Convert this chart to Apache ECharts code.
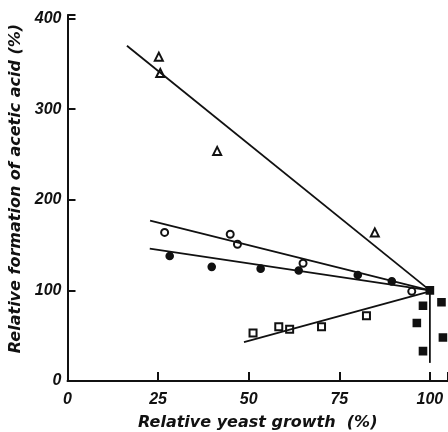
<!DOCTYPE html>
<html>
<head>
<meta charset="utf-8">
<script src="https://cdn.jsdelivr.net/npm/echarts@6/dist/echarts.min.js"></script>
<style>
  html, body { margin: 0; padding: 0; background: #fff; }
  #chart { width: 448px; height: 432px; }
</style>
</head>
<body>
<div id="chart"></div>
<script>
// x ticks and y ticks
const xTicks = [0, 25, 50, 75, 100];
const yTicks = [0, 100, 200, 300, 400];

// open triangles
const triPts = [[25.2, 358], [25.6, 340], [41.3, 254], [84.8, 164]];
const triLine = [[16.4, 370], [100, 100]];
// open circles
const openCirclePts = [[26.8, 164], [44.9, 162], [46.9, 151], [65.0, 130], [95.0, 99]];
const openCircleLine = [[22.8, 177], [100, 100]];
// filled circles
const filledCirclePts = [[28.2, 138], [39.8, 126], [53.3, 124], [63.8, 122], [80.1, 117], [89.5, 110]];
const filledCircleLine = [[22.7, 146], [100, 100]];
// open squares
const openSquarePts = [[51.2, 53], [58.3, 60], [61.3, 57], [70.1, 60], [82.5, 72]];
const openSquareLine = [[48.7, 43], [100, 99]];
// filled squares
const filledSquarePts = [[100, 100], [98.1, 83], [96.4, 64], [98.1, 33], [103.2, 87], [103.6, 48]];
const filledSquareLine = [[100, 100], [100, 20]];

const nameTxt = { fontFamily: "DejaVu Sans", fontWeight: "bold", fontStyle: "italic", color: "#111", fontSize: 16 };
const tickTxt = { fontFamily: "Liberation Sans", fontWeight: "bold", fontStyle: "italic", color: "#111", fontSize: 16 };

function lineSeries(d) {
  return {
    type: "line", data: d, symbol: "none", silent: true,
    lineStyle: { color: "#111", width: 1.8 }
  };
}
function scatterSeries(d, sym, size) {
  return {
    type: "scatter", data: d, symbol: sym, symbolSize: size,
    itemStyle: { color: "#111", borderColor: "#111", borderWidth: 1.6, opacity: 1 }
  };
}

let chart = echarts.init(document.getElementById("chart"));
chart.setOption({
  backgroundColor: "#fff",
  animation: false,
  grid: { left: 67.5, right: 0, top: 15, bottom: 51, containLabel: false, outerBoundsMode: "none" },
  xAxis: {
    type: "value", min: 0, max: 105, interval: 25,
    name: "Relative yeast growth  (%)",
    nameLocation: "middle", nameGap: 34,
    nameTextStyle: Object.assign({}, nameTxt),
    axisLine: { lineStyle: { color: "#111", width: 2 } },
    axisTick: { inside: true, length: 9, lineStyle: { color: "#111", width: 2 } },
    axisLabel: Object.assign({}, tickTxt, { margin: 11,
      formatter: v => xTicks.indexOf(v) >= 0 ? String(v) : "" }),
    splitLine: { show: false }
  },
  yAxis: {
    type: "value", min: 0, max: 404, interval: 100,
    name: "Relative formation of acetic acid (%)",
    nameLocation: "middle", nameGap: 38, nameRotate: 90,
    nameTextStyle: Object.assign({}, nameTxt, { padding: [0, 0, 0, 19] }),
    axisLine: { lineStyle: { color: "#111", width: 2 } },
    axisTick: { inside: true, length: 8, lineStyle: { color: "#111", width: 2 } },
    axisLabel: Object.assign({}, tickTxt, { margin: 6,
      formatter: v => yTicks.indexOf(v) >= 0 ? String(v) : "" }),
    splitLine: { show: false }
  },
  series: [
    lineSeries(triLine),
    lineSeries(openCircleLine),
    lineSeries(filledCircleLine),
    lineSeries(openSquareLine),
    lineSeries(filledSquareLine),
    scatterSeries(triPts, "emptyTriangle", 8),
    scatterSeries(openCirclePts, "emptyCircle", 7),
    scatterSeries(filledCirclePts, "circle", 7),
    scatterSeries(openSquarePts, "emptyRect", 7),
    scatterSeries(filledSquarePts, "rect", 7)
  ]
});
</script>
</body>
</html>
